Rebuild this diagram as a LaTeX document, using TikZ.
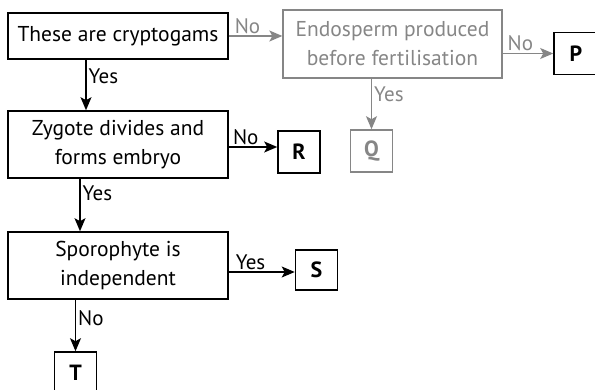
\documentclass[tikz,border=0pt]{standalone}
\usepackage{fontspec}
\setmainfont{PT Sans}
\usetikzlibrary{arrows.meta}
\begin{document}
\begin{tikzpicture}[x=1pt,y=-1pt,
  txt/.style={font=\fontsize{21.5}{29}\selectfont},
  lbl/.style={font=\fontsize{21}{24}\selectfont, inner sep=2pt},
  box/.style={draw, line width=1.6pt, minimum width=220pt, minimum height=67pt, align=center, inner sep=0pt, txt},
  leaf/.style={draw, line width=1.6pt, minimum width=42pt, minimum height=42pt, inner sep=0pt, font=\fontsize{22}{26}\selectfont\bfseries},
  gbox/.style={box, draw=gray!95, text=gray!95, line width=1.3pt},
  arr/.style={-{Stealth[length=13pt,width=11pt,inset=3pt]}, line width=1.4pt},
  garr/.style={arr, draw=gray!95, fill=gray!95}
]
\useasboundingbox (0,0) rectangle (595,390);
\node[box, minimum height=46pt] (c1) at (118,36) {These are cryptogams};
\node[gbox, minimum width=219pt, minimum height=68pt] (endo) at (392.5,44) {Endosperm produced\\before fertilisation};
\node[leaf, minimum width=44pt] (P) at (576,53.5) {P};
\node[leaf, draw=gray!95, text=gray!95] (Q) at (371.5,151) {Q};
\node[box] (zyg) at (118,144.5) {Zygote divides and\\forms embryo};
\node[leaf] (R) at (299,152) {R};
\node[box] (spo) at (118,265.5) {Sporophyte is\\independent};
\node[leaf, minimum height=40pt] (S) at (316.5,270) {S};
\node[leaf] (T) at (75.5,373) {T};

\draw[garr] (c1.east) -- (c1.east -| endo.west)
  node[lbl, text=gray!95, pos=0.35, above] {No};
\draw[garr] (P.west -| endo.east) -- (P.west)
  node[lbl, text=gray!95, pos=0.35, above] {No};
\draw[garr] (endo.south -| Q.north) -- (Q.north)
  node[lbl, text=gray!95, pos=0.3, right] {Yes};
\draw[arr] ([xshift=-32pt]c1.south) -- ([xshift=-32pt]zyg.north)
  node[lbl, pos=0.33, right] {Yes};
\draw[arr] ([yshift=-2.5pt]zyg.east) -- ([yshift=-2.5pt]zyg.east -| R.west)
  node[lbl, pos=0.35, above] {No};
\draw[arr] ([xshift=-38pt]zyg.south) -- ([xshift=-38pt]spo.north)
  node[lbl, pos=0.27, right] {Yes};
\draw[arr] ([yshift=-6.5pt]spo.east) -- ([yshift=-6.5pt]spo.east -| S.west)
  node[lbl, pos=0.33, above] {Yes};
\draw[arr] (spo.south -| T.north) -- (T.north)
  node[lbl, pos=0.35, right] {No};
\end{tikzpicture}
\end{document}
